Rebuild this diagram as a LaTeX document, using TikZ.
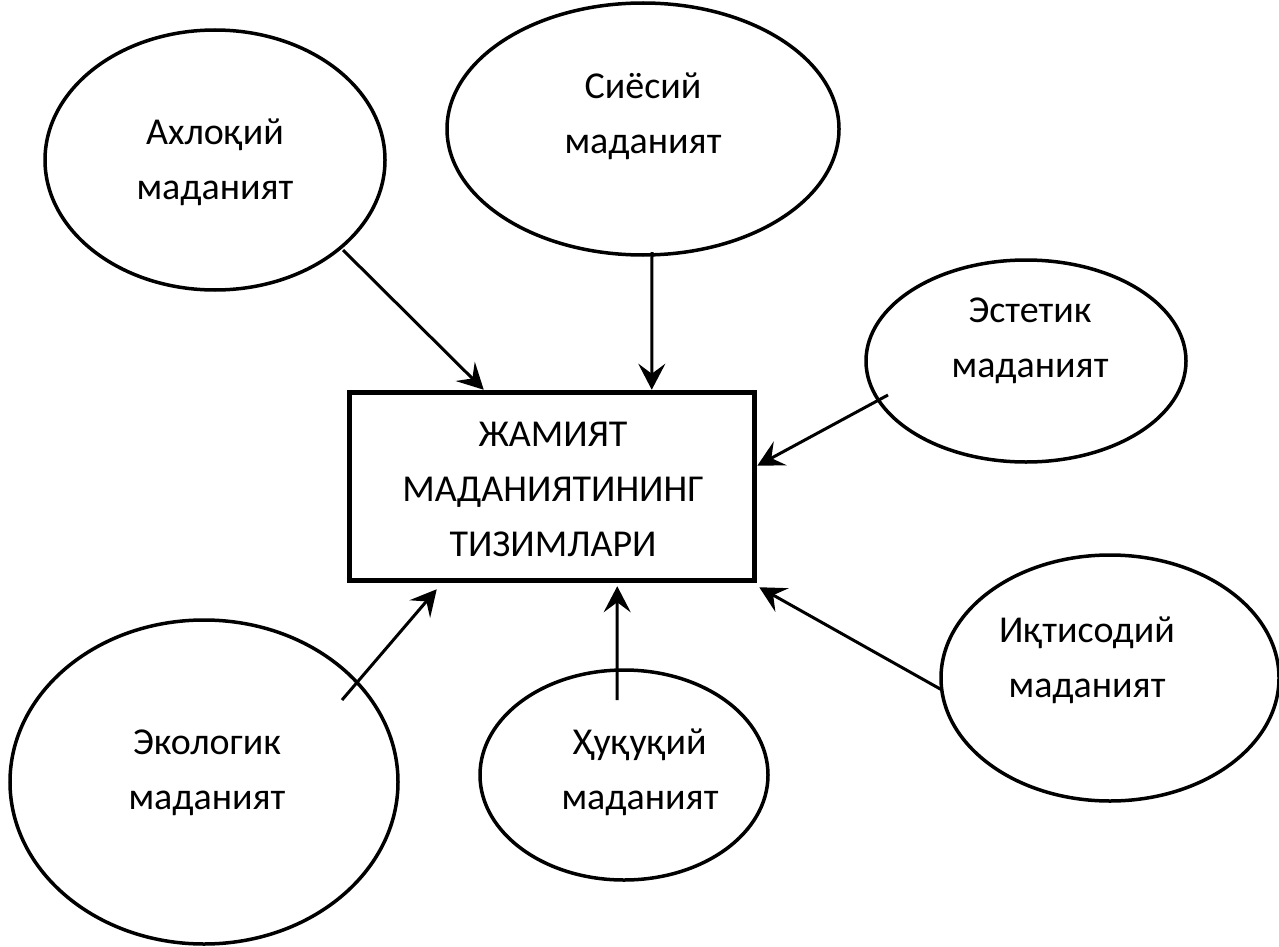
\documentclass[tikz,border=0pt]{standalone}
\usepackage{fontspec}
\setmainfont{Carlito}
\usetikzlibrary{arrows.meta,shapes.geometric}
\tikzset{
  oval/.style={ellipse, draw, line width=3.5pt, inner sep=0pt},
  lbl/.style={align=center, font=\fontsize{38}{55}\selectfont, inner sep=0pt},
  mainbox/.style={draw, line width=5.5pt, minimum width=405pt, minimum height=188pt, inner sep=0pt},
  arr/.style={line width=3pt, -{Stealth[length=26pt, width=27pt, inset=10pt]}}
}
\begin{document}
\begin{tikzpicture}[x=1pt,y=-1pt]
\useasboundingbox (0,0) rectangle (1279,947);
% main box
\node[mainbox] (box) at (552,486.5) {};
\node[lbl] (boxtxt) at (553,489) {ЖАМИЯТ\\МАДАНИЯТИНИНГ\\ТИЗИМЛАРИ};
% ellipses
\node[oval, minimum width=340pt, minimum height=260pt] (e1) at (215,160) {};
\node[oval, minimum width=392pt, minimum height=252pt] (e2) at (643,129) {};
\node[oval, minimum width=320pt, minimum height=202pt] (e3) at (1026,361) {};
\node[oval, minimum width=338pt, minimum height=246pt] (e4) at (1110,678) {};
\node[oval, minimum width=288pt, minimum height=210pt] (e5) at (624,775) {};
\node[oval, minimum width=388pt, minimum height=324pt] (e6) at (204,782) {};
% texts
\node[lbl] (t1) at (215,162) {Ахлоқий\\маданият};
\node[lbl] (t2) at (643,116) {Сиёсий\\маданият};
\node[lbl] (t3) at (1030,341) {Эстетик\\маданият};
\node[lbl] (t4) at (1087,660) {Иқтисодий\\маданият};
\node[lbl] (t5) at (640,772) {Ҳуқуқий\\маданият};
\node[lbl] (t6) at (207,773) {Экологик\\маданият};
% arrow start points
\coordinate (s1) at (343,250);
\coordinate (s2) at (652,252);
\coordinate (s3) at (888,395);
\coordinate (s4) at (942,690);
\coordinate (s5) at (617,700);
\coordinate (s6) at (342,700);
% arrows
\draw[arr] (s1) -- ([xshift=137pt]box.north west);
\draw[arr] (s2) -- ([xshift=305pt]box.north west);
\draw[arr] (s3) -- ([yshift=-76pt]box.north east);
\draw[arr] (s4) -- ([xshift=2pt,yshift=-4pt]box.south east);
\draw[arr] (s5) -- ([xshift=-140pt,yshift=-3pt]box.south east);
\draw[arr] (s6) -- ([xshift=90pt,yshift=-6pt]box.south west);
\end{tikzpicture}
\end{document}
